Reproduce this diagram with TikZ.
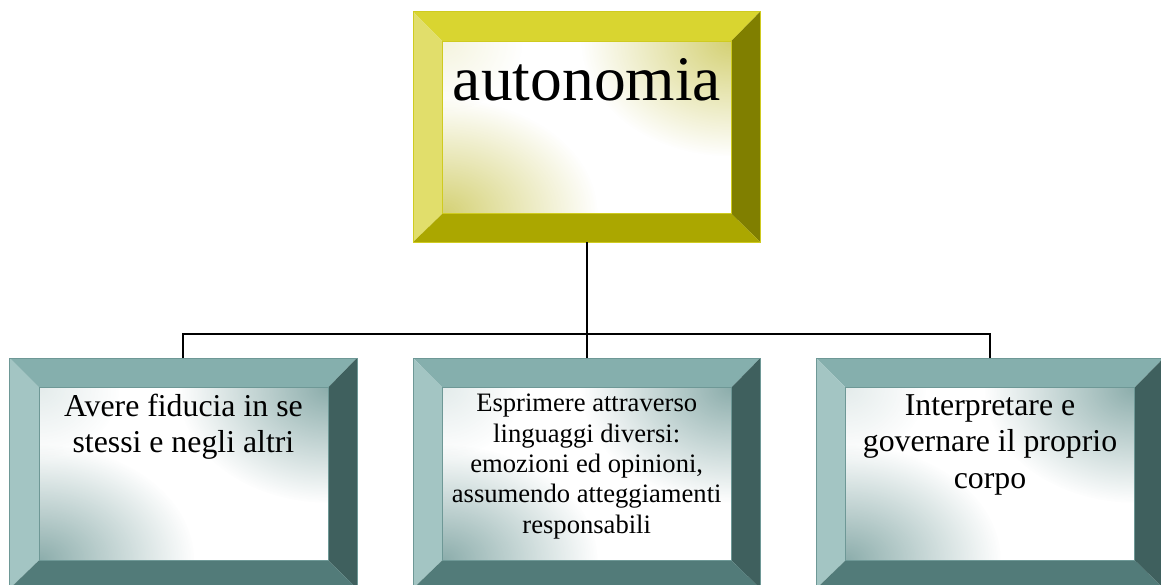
\documentclass[tikz,border=0pt]{standalone}
\usepackage{fontspec}
\setmainfont{Liberation Serif}
\usetikzlibrary{calc,fadings}
\definecolor{yeltop}{HTML}{D9D530}
\definecolor{yelleft}{HTML}{E1DE6B}
\definecolor{yelright}{HTML}{807F00}
\definecolor{yelbottom}{HTML}{ABA700}
\definecolor{yelcorner}{HTML}{CDC95C}
\definecolor{yelline}{HTML}{CFCB20}
\definecolor{tealtop}{HTML}{85AFAD}
\definecolor{tealleft}{HTML}{A3C5C3}
\definecolor{tealright}{HTML}{3F605E}
\definecolor{tealbottom}{HTML}{527B79}
\definecolor{tealcorner}{HTML}{789F9D}
\definecolor{tealline}{HTML}{6E9896}
\tikzfading[name=glow, inner color=transparent!0, outer color=transparent!100]
\newcommand\ctrlines[1]{\vtop{\halign{\hfil##\hfil\cr#1\crcr}}}
\newcommand\bvbox[3]{%
  \node[boxshape] (#1) at (#2) {};
  \path (#1.north west) coordinate (#1-o1) (#1.north east) coordinate (#1-o2)
        (#1.south east) coordinate (#1-o3) (#1.south west) coordinate (#1-o4);
  \path ($(#1.north west)+(29.4,29.6)$) coordinate (#1-i1)
        ($(#1.north east)+(-29,29.6)$) coordinate (#1-i2)
        ($(#1.south east)+(-29,-28.4)$) coordinate (#1-i3)
        ($(#1.south west)+(29.4,-28.4)$) coordinate (#1-i4);
  \fill[#3top] (#1-o1) -- (#1-o2) -- (#1-i2) -- (#1-i1) -- cycle;
  \fill[#3left] (#1-o1) -- (#1-i1) -- (#1-i4) -- (#1-o4) -- cycle;
  \fill[#3right] (#1-o2) -- (#1-o3) -- (#1-i3) -- (#1-i2) -- cycle;
  \fill[#3bottom] (#1-o4) -- (#1-i4) -- (#1-i3) -- (#1-o3) -- cycle;
  \begin{scope}
    \clip (#1-i1) rectangle (#1-i3);
    \fill[white] (#1-i1) rectangle (#1-i3);
    \fill[#3corner, path fading=glow, opacity=0.85] (#1-i2) ellipse [x radius=150, y radius=115];
    \fill[#3corner, path fading=glow, opacity=0.85] (#1-i4) ellipse [x radius=155, y radius=115];
    \fill[#3corner, path fading=glow, opacity=0.2] (#1-i1) ellipse [x radius=80, y radius=70];
  \end{scope}
  \draw[#3line, line width=0.8pt] (#1-o1) rectangle (#1-o3) (#1-i1) rectangle (#1-i3);
}
\tikzset{
  boxshape/.style={rectangle, minimum width=346.7pt, minimum height=230pt, inner sep=0pt, draw=none},
  conn/.style={draw=black, line width=2pt},
  bigtxt/.style={anchor=base, inner sep=0pt, font=\fontsize{63.5}{73}\selectfont},
  midtxt/.style={anchor=base, inner sep=0pt, font=\fontsize{31.8}{36.8}\selectfont},
  smalltxt/.style={anchor=base, inner sep=0pt, font=\fontsize{26.6}{30.4}\selectfont}
}
\begin{document}
\begin{tikzpicture}[x=1pt, y=-1pt]
\useasboundingbox (0,0) rectangle (1161,585);
\clip (0,0) rectangle (1161,585);
\fill[white] (0,0) rectangle (1161,585);
\bvbox{top}{586.7,126.85}{yel}
\bvbox{b1}{183.4,473.3}{teal}
\bvbox{b2}{586.7,473.3}{teal}
\bvbox{b3}{990,473.3}{teal}
\coordinate (j) at (586.7,334);
\draw[conn] (top.south) -- (j);
\draw[conn] (b2.north) -- (j);
\draw[conn] (b1.north) |- (j);
\draw[conn] (b3.north) |- (j);
\node[bigtxt] (t0) at (587,100.5) {autonomia};
\node[midtxt] (t1) at (183.4,416) {\ctrlines{Avere fiducia in se\cr stessi e negli altri}};
\node[smalltxt] (t2) at (586.7,411.7) {\ctrlines{Esprimere attraverso\cr linguaggi diversi:\cr emozioni ed opinioni,\cr assumendo atteggiamenti\cr responsabili}};
\node[midtxt] (t3) at (990,415) {\ctrlines{Interpretare e\cr governare il proprio\cr corpo}};
\end{tikzpicture}
\end{document}
